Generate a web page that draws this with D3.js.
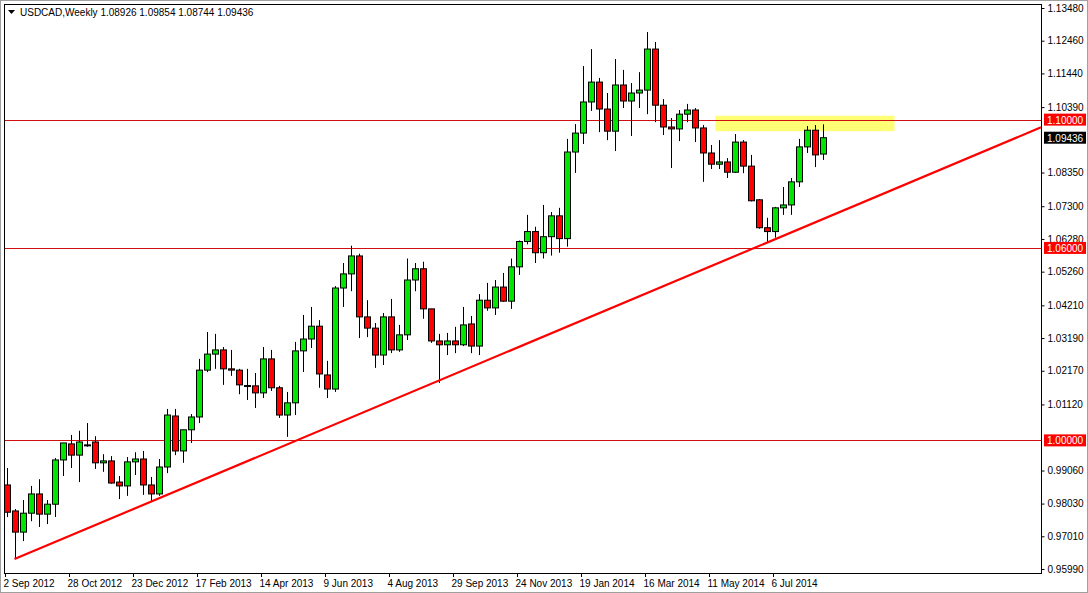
<!DOCTYPE html>
<html><head><meta charset="utf-8">
<script src="https://cdn.jsdelivr.net/npm/d3@7"></script>
<style>body{margin:0;background:#fff}text{font-family:"Liberation Sans",Arial,sans-serif;font-size:10px}</style>
</head><body>
<script>
// weekly candles USDCAD, 2 Sep 2012 .. 17 Aug 2014
const opens = [.9861,.9780,.9714,.9773,.9833,.9770,.9801,.9939,.9989,.9954,.9986,.9995,.9930,.9936,.9870,.9858,.9933,.9942,.9861,.9833,
 .9917,1.0076,.9967,1.0033,1.0073,1.0219,1.0269,1.0282,1.0223,1.0219,1.0171,1.0170,1.0148,1.0254,1.0164,1.0079,1.0117,1.0279,1.0316,1.0356,
 1.0204,1.0160,1.0475,1.0519,1.0575,1.0385,1.0350,1.0266,1.0385,1.0282,1.0329,1.0500,1.0535,1.0410,1.0310,1.0298,1.0310,1.0298,1.0363,1.0294,
 1.0437,1.0413,1.0478,1.0434,1.0541,1.0620,1.0651,1.0585,1.0635,1.0700,1.0629,1.0899,1.0958,1.1055,1.1117,1.1033,1.0964,1.1108,1.1058,1.1083,
 1.1092,1.1220,1.1045,1.0977,1.0971,1.1017,1.1030,1.0974,1.0896,1.0861,1.0868,1.0836,1.0930,1.0855,1.0750,1.0663,1.0651,1.0725,1.0734,1.0806,
 1.0915,1.0967,1.08926]
const highs = [.9914,.9786,.9814,.9858,.9879,.9814,.9945,.9992,1.0017,1.0030,1.0054,1.0013,.9957,.9951,.9889,.9948,.9963,.9967,.9886,.9942,
 1.0098,1.0098,1.0033,1.0082,1.0254,1.0338,1.0332,1.0291,1.0282,1.0223,1.0223,1.0210,1.0291,1.0282,1.0170,1.0151,1.0307,1.0391,1.0416,1.0375,
 1.0248,1.0481,1.0553,1.0607,1.0582,1.0437,1.0366,1.0397,1.0441,1.0360,1.0567,1.0553,1.0557,1.0410,1.0332,1.0335,1.0354,1.0416,1.0388,1.0456,
 1.0491,1.0500,1.0522,1.0567,1.0623,1.0703,1.0666,1.0734,1.0712,1.0725,1.0940,1.0986,1.1167,1.1220,1.1130,1.1083,1.1189,1.1155,1.1114,1.1148,
 1.1273,1.1242,1.1064,1.1005,1.1030,1.1049,1.1036,1.0983,1.0921,1.0936,1.0880,1.0955,1.0936,1.0890,1.0752,1.0694,1.0728,1.0790,1.0818,1.0940,
 1.0980,1.0983,1.09854]
const lows = [.9761,.9630,.9686,.9748,.9730,.9739,.9761,.9889,.9914,.9870,.9980,.9911,.9902,.9865,.9817,.9827,.9892,.9830,.9808,.9827,
 .9898,.9954,.9930,.9992,1.0054,1.0213,1.0223,1.0173,1.0201,1.0144,1.0126,1.0101,1.0132,1.0154,1.0070,1.0011,1.0079,1.0213,1.0288,1.0164,
 1.0132,1.0151,1.0416,1.0465,1.0319,1.0322,1.0226,1.0235,1.0272,1.0276,1.0313,1.0465,1.0379,1.0304,1.0179,1.0266,1.0272,1.0294,1.0272,1.0266,
 1.0404,1.0391,1.0432,1.0410,1.0516,1.0611,1.0553,1.0567,1.0576,1.0585,1.0604,1.0834,1.0924,1.1027,1.0961,1.0936,1.0902,1.1036,1.0949,1.1036,
 1.1017,1.0992,1.0952,1.0849,1.0933,1.0992,1.0930,1.0806,1.0846,1.0846,1.0818,1.0834,1.0833,1.0745,1.0660,1.0616,1.0632,1.0703,1.0703,1.0790,
 1.0896,1.0852,1.08744]
const closes = [.9776,.9714,.9773,.9833,.9770,.9801,.9939,.9992,.9954,.9995,.9983,.9930,.9936,.9867,.9858,.9933,.9942,.9861,.9833,.9917,
 1.0079,.9967,1.0033,1.0073,1.0219,1.0269,1.0282,1.0223,1.0219,1.0173,1.0169,1.0148,1.0254,1.0164,1.0079,1.0117,1.0279,1.0316,1.0356,1.0207,
 1.0160,1.0475,1.0519,1.0575,1.0385,1.0350,1.0266,1.0385,1.0282,1.0329,1.0500,1.0535,1.0410,1.0310,1.0298,1.0310,1.0298,1.0360,1.0294,1.0437,
 1.0413,1.0478,1.0434,1.0541,1.0620,1.0651,1.0585,1.0635,1.0700,1.0629,1.0899,1.0958,1.1055,1.1117,1.1033,1.0964,1.1108,1.1058,1.1083,1.1092,
 1.1220,1.1045,1.0977,1.0971,1.1017,1.1030,1.0974,1.0896,1.0861,1.0868,1.0836,1.0930,1.0855,1.0747,1.0663,1.0651,1.0725,1.0734,1.0806,1.0915,
 1.0967,1.0890,1.09436]

const dateLabels = ['2 Sep 2012','28 Oct 2012','23 Dec 2012','17 Feb 2013','14 Apr 2013','9 Jun 2013','4 Aug 2013',
 '29 Sep 2013','24 Nov 2013','19 Jan 2014','16 Mar 2014','11 May 2014','6 Jul 2014']
const priceTicks = [1.1348,1.1246,1.1144,1.1039,1.0835,1.0730,1.0628,1.0526,1.0421,1.0319,1.0217,1.0112,0.9906,0.9803,0.9701,0.9599]
const levels = [1.10, 1.06, 1.00]
const zone = [1.0964, 1.1012, 88.6, 111]   // price low, high, bar from, bar to
const trend = [[1, 0.9630], [95, 1.0616]]

const W = 1088, H = 593
const L = 4, T = 4, R = 1041, B = 573

let svg = d3.select('body').append('svg').attr('width', W).attr('height', H)
svg.append('rect').attr('width', W).attr('height', H).attr('fill', '#fff')

let x = d3.scaleLinear().domain([0, 1]).range([6.5, 14.5])
let y = d3.scaleLinear().domain([0.9599, 1.1348]).range([569, 8])

svg.append('clipPath').attr('id', 'c').append('rect')
    .attr('x', L).attr('y', T).attr('width', R - L).attr('height', B - T)
let g = svg.append('g').attr('clip-path', 'url(#c)')

// yellow zone
g.append('rect')
    .attr('x', x(zone[2])).attr('y', y(zone[1]))
    .attr('width', x(zone[3]) - x(zone[2])).attr('height', y(zone[0]) - y(zone[1]))
    .attr('fill', '#ffff66').attr('opacity', 0.9)

// horizontal levels
g.selectAll('.lvl').data(levels).enter().append('line')
    .attr('x1', L).attr('x2', R)
    .attr('y1', d => Math.round(y(d)) + 0.5).attr('y2', d => Math.round(y(d)) + 0.5)
    .attr('stroke', '#d01010').attr('stroke-width', 1)

// candles
const idx = d3.range(opens.length)
g.selectAll('.wick').data(idx).enter().append('line')
    .attr('x1', i => Math.round(x(i)) + 0.5).attr('x2', i => Math.round(x(i)) + 0.5)
    .attr('y1', i => y(highs[i])).attr('y2', i => y(lows[i]))
    .attr('stroke', '#000')
g.selectAll('.body').data(idx).enter().append('rect')
    .attr('x', i => Math.round(x(i)) - 2.5)
    .attr('y', i => y(Math.max(opens[i], closes[i])))
    .attr('width', 6)
    .attr('height', i => Math.max(1, Math.abs(y(opens[i]) - y(closes[i]))))
    .attr('fill', i => closes[i] >= opens[i] ? '#00e600' : '#ff0000')
    .attr('stroke', '#000').attr('stroke-width', 1)

// trend line, extended to the right edge
const slope = (trend[1][1] - trend[0][1]) / (trend[1][0] - trend[0][0])
const endI = x.invert(R)
g.append('line')
    .attr('x1', x(trend[0][0])).attr('y1', y(trend[0][1]))
    .attr('x2', x(endI)).attr('y2', y(trend[0][1] + slope * (endI - trend[0][0])))
    .attr('stroke', '#ff0000').attr('stroke-width', 2.2)

// frame
svg.append('rect').attr('x', L + 0.5).attr('y', T + 0.5).attr('width', R - L).attr('height', B - T)
    .attr('fill', 'none').attr('stroke', '#000')

// price axis
let yAxis = d3.axisRight(y).tickValues(priceTicks).tickSize(3).tickFormat(d3.format('.5f'))
let ya = svg.append('g').attr('transform', `translate(${R + 0.5},0)`).call(yAxis)
ya.select('.domain').remove()
ya.selectAll('text').attr('x', 6).attr('fill', '#000').style('font-size', '10px')
    .style('font-family', '"Liberation Sans",Arial,sans-serif')

// level labels and current price
const tags = levels.map(v => [v, '#ff0000']).concat([[closes[closes.length - 1], '#000']])
tags.forEach(([v, c]) => {
    svg.append('rect').attr('x', R + 3).attr('y', y(v) - 6).attr('width', 42).attr('height', 12).attr('fill', c)
    svg.append('text').attr('x', R + 6).attr('y', y(v) + 4).attr('fill', '#fff').text(d3.format('.5f')(v))
})

// time axis
let ta = svg.append('g')
dateLabels.forEach((t, k) => {
    let px = Math.round(x(k * 8)) - 1.5
    ta.append('line').attr('x1', px).attr('x2', px).attr('y1', B).attr('y2', B + 4).attr('stroke', '#000')
    ta.append('text').attr('x', px - 2).attr('y', B + 14).text(t)
})

// header
svg.append('path').attr('d', 'M8,10 L15,10 L11.5,14 Z').attr('fill', '#000')
svg.append('text').attr('x', 20).attr('y', 16).text('USDCAD,Weekly  1.08926 1.09854 1.08744 1.09436')

svg.append('rect').attr('x', 0.5).attr('y', 0.5).attr('width', W - 1).attr('height', H - 1)
    .attr('fill', 'none').attr('stroke', '#a0a0a0')
</script>
</body></html>
